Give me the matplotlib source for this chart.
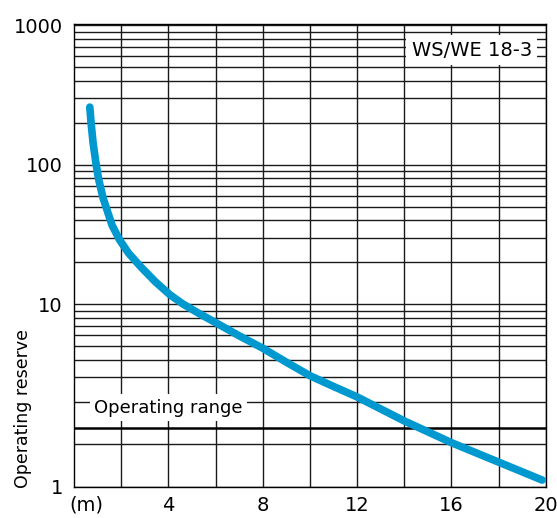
import matplotlib
matplotlib.use("Agg")
import matplotlib.pyplot as plt
from matplotlib.ticker import FixedLocator, NullFormatter

# ---- data ----
distance_m = [0.67, 0.725, 0.81, 0.94, 1.05, 1.23, 1.61, 1.93, 2.31, 2.84, 3.45,
              4.07, 4.6, 5.3, 6.0, 7.0, 8.0, 9.0, 10.0, 11.0, 12.0, 14.0, 16.0,
              18.0, 19.85]
operating_reserve = [259, 199, 143, 100, 78, 58, 37, 29, 23.3, 18.5, 14.5,
                     11.7, 10.1, 8.6, 7.4, 5.95, 4.85, 3.85, 3.08, 2.58, 2.17, 1.46, 1.02,
                     0.74, 0.55]
x_tick_values = [4, 8, 12, 16, 20]
x_tick_labels = ["4", "8", "12", "16", "20"]
y_tick_labels = ["1", "10", "100", "1000"]
operating_range_level = 1.3
model_label = "WS/WE 18-3"

W, H = 557, 518
fig = plt.figure(figsize=(W / 100, H / 100), dpi=100)
plt.rcParams['font.family'] = ['DejaVu Sans']

left, right, top, bottom = 74, 545.7, 24.3, 486.7
ax = fig.add_axes([left / W, 1 - bottom / H, (right - left) / W, (bottom - top) / H])

ax.set_yscale('log')
y_lo, y_hi = 0.493, 1016
ax.set_ylim(y_lo, y_hi)
ax.set_xlim(0, 20)

# grid
minor_y = [1] + [m * 10 ** k for k in range(0, 3) for m in range(2, 10)]
ax.yaxis.set_major_locator(FixedLocator([y_lo, 10, 100, 1000]))
ax.set_yticklabels(y_tick_labels)
ax.yaxis.set_minor_locator(FixedLocator(minor_y))
ax.yaxis.set_minor_formatter(NullFormatter())
ax.set_xticks(x_tick_values)
ax.set_xticklabels(x_tick_labels)
ax.xaxis.set_minor_locator(FixedLocator(list(range(2, 20, 2))))

grid_kw = dict(color='#1a1a1a', linewidth=1.0)
ax.grid(True, which='both', axis='both', **grid_kw)
ax.set_axisbelow(True)
ax.tick_params(which='both', length=0)
ax.tick_params(axis='x', pad=7, labelsize=14)
ax.tick_params(axis='y', pad=8, labelsize=14)

ax.axhline(operating_range_level, color='#000000', linewidth=1.8, zorder=1)

for s in ax.spines.values():
    s.set_color('#000000')
    s.set_linewidth(1.0)

# curve
ax.plot(distance_m, operating_reserve, color='#0099CF', linewidth=5.5,
        solid_capstyle='round', solid_joinstyle='round', zorder=5)

# labels
ax.text(0.2, 0.171, "Operating range", transform=ax.transAxes, ha='center', va='center',
        fontsize=13, zorder=4,
        bbox=dict(boxstyle='square,pad=0.25', facecolor='white', edgecolor='none'))
ax.text(0.843, 0.944, model_label, transform=ax.transAxes, ha='center', va='center',
        fontsize=14, zorder=4,
        bbox=dict(boxstyle='square,pad=0.28', facecolor='white', edgecolor='none'))

fig.text(86 / W, 1 - 505 / H, "(m)", ha='center', va='center', fontsize=14)
fig.text(23 / W, 1 - 488 / H, "Operating reserve", rotation=90, ha='center', va='bottom',
         fontsize=12.5)

fig.savefig("out.png", dpi=100, facecolor='white')
